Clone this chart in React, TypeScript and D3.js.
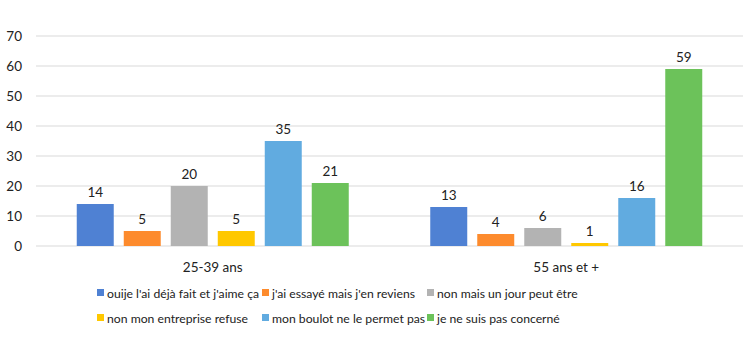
import * as d3 from 'd3'

const categories = ['25-39 ans', '55 ans et +']
const seriesNames = [
  "ouije l'ai déjà fait et j'aime ça",
  "j'ai essayé mais j'en reviens",
  'non mais un jour peut être',
  'non mon entreprise refuse',
  'mon boulot ne le permet pas',
  'je ne suis pas concerné',
]
const seriesColors = ['#4f81d3', '#fd8b2d', '#b3b3b3', '#ffc800', '#61abe0', '#6cc25a']
// values[series][category]
const seriesValues = [
  [14, 13],
  [5, 4],
  [20, 6],
  [5, 1],
  [35, 16],
  [21, 59],
]
const yTicks = [0, 10, 20, 30, 40, 50, 60, 70]

const width = 749
const height = 351
const margin = { top: 36, right: 6, bottom: 105, left: 36 }
const font = "Lato, 'Liberation Sans', Arial, sans-serif"

export default function App() {
  const x0 = d3
    .scaleBand()
    .domain(categories)
    .range([margin.left, width - margin.right])

  const x1 = d3
    .scaleBand()
    .domain(seriesNames)
    .range([0, x0.bandwidth()])
    .paddingInner(0.213)
    .paddingOuter(0.867)

  const y = d3
    .scaleLinear()
    .domain([0, 70])
    .range([height - margin.bottom, margin.top])

  const legendCols = 3

  return (
    <svg
      width={width}
      height={height}
      style={{ position: 'absolute', left: 0, top: 0, background: 'white' }}
      fontFamily={font}
    >
      {/* grid */}
      <g>
        {yTicks.map(t => (
          <g key={t}>
            <line
              x1={margin.left}
              x2={width - margin.right}
              y1={y(t)}
              y2={y(t)}
              stroke="#d9d9d9"
              strokeWidth={1}
            />
            <text
              x={22}
              y={y(t)}
              dy="0.35em"
              textAnchor="end"
              fontSize={13.5}
              fill="#222"
            >
              {t}
            </text>
          </g>
        ))}
      </g>

      {/* bars */}
      {categories.map((cat, ci) => (
        <g key={cat} transform={`translate(${x0(cat)},0)`}>
          {seriesNames.map((s, si) => {
            const v = seriesValues[si][ci]
            const bx = x1(s) as number
            return (
              <g key={s}>
                <rect
                  x={bx}
                  y={y(v)}
                  width={x1.bandwidth()}
                  height={y(0) - y(v)}
                  fill={seriesColors[si]}
                />
                <text
                  x={bx + x1.bandwidth() / 2}
                  y={y(v) - 7}
                  textAnchor="middle"
                  fontSize={13.5}
                  fill="#222"
                >
                  {v}
                </text>
              </g>
            )
          })}
          <text
            x={x0.bandwidth() / 2}
            y={y(0) + 26}
            textAnchor="middle"
            fontSize={13.5}
            fill="#222"
          >
            {cat}
          </text>
        </g>
      ))}

      {/* legend */}
      <g transform="translate(97,294)">
        {seriesNames.map((s, i) => {
          const col = i % legendCols
          const row = Math.floor(i / legendCols)
          return (
            <g key={s} transform={`translate(${col * 165},${row * 25})`}>
              <rect x={0} y={-5} width={7} height={7} fill={seriesColors[i]} />
              <text x={10} y={0} dy="0.35em" fontSize={12.2} fill="#222">
                {s}
              </text>
            </g>
          )
        })}
      </g>
    </svg>
  )
}
